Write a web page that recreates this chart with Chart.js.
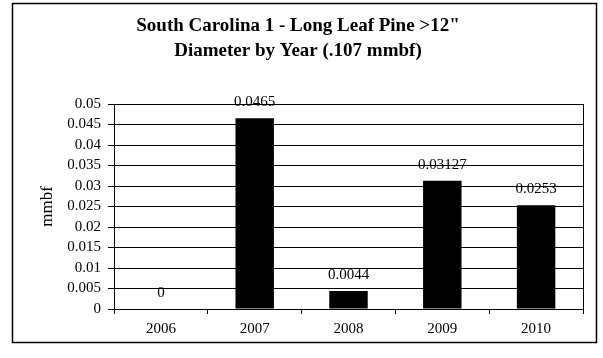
<!DOCTYPE html>
<html>
<head>
<meta charset="utf-8">
<script src="https://cdn.jsdelivr.net/npm/chart.js@4"></script>
<style>
  html, body { margin: 0; padding: 0; background: #fff; }
  #wrap { position: absolute; left: 0; top: 0; width: 603px; height: 358px; }
</style>
</head>
<body>
<div id="wrap"><canvas id="myChart" width="603" height="358"></canvas></div>
<script>
var years = ["2006", "2007", "2008", "2009", "2010"];
var mmbf = [0, 0.0465, 0.0044, 0.03127, 0.0253];
var valueLabels = ["0", "0.0465", "0.0044", "0.03127", "0.0253"];
var titleLines = ['South Carolina 1 - Long Leaf Pine >12"', 'Diameter by Year (.107 mmbf)'];

// labels above bars, plus the plot and outer frames
var frames = {
  id: 'frames',
  beforeDraw: function(chart) {
    var c = chart.ctx;
    c.save();
    c.fillStyle = '#fff';
    c.fillRect(0, 0, chart.width, chart.height);
    c.strokeStyle = '#000';
    c.lineWidth = 1.5;
    c.strokeRect(12.5, 3.5, 584, 339);
    c.restore();
  },
  afterDraw: function(chart) {
    var c = chart.ctx, a = chart.chartArea;
    c.save();
    c.strokeStyle = '#000';
    c.lineWidth = 1;
    c.strokeRect(a.left + 0.5, a.top + 0.5, a.right - a.left, a.bottom - a.top);
    c.font = '15px "Liberation Serif"';
    c.fillStyle = '#000';
    c.textAlign = 'center';
    c.textBaseline = 'middle';
    chart.getDatasetMeta(0).data.forEach(function(bar, i) {
      c.fillText(valueLabels[i], bar.x, bar.y - 16);
    });
    c.restore();
  }
};

var ctx = document.getElementById("myChart").getContext('2d');
var myChart = new Chart(ctx, {
  type: 'bar',
  data: {
    labels: years,
    datasets: [{
      data: mmbf,
      backgroundColor: "#000",
      borderWidth: 0,
      barPercentage: 0.41,
      categoryPercentage: 1
    }]
  },
  options: {
    responsive: false,
    animation: false,
    layout: { padding: { left: 13, right: 20, top: 4, bottom: 15 } },
    plugins: {
      legend: { display: false },
      tooltip: { enabled: false },
      title: {
        display: true,
        text: titleLines,
        color: '#000',
        font: { family: '"Liberation Serif"', size: 19, weight: 'bold', lineHeight: 1.316 },
        padding: { top: 10, bottom: 40 }
      }
    },
    scales: {
      x: {
        offset: true,
        grid: { offset: true, drawOnChartArea: false, color: '#000', tickLength: 5 },
        border: { color: '#000' },
        ticks: { color: '#000', font: { family: '"Liberation Serif"', size: 15 }, padding: 6 },
        afterFit: function(s) { s.height = 34; }
      },
      y: {
        min: 0,
        max: 0.05,
        grid: { color: '#000', tickLength: 6 },
        border: { color: '#000' },
        ticks: {
          stepSize: 0.005,
          autoSkip: false,
          color: '#000',
          font: { family: '"Liberation Serif"', size: 15 },
          padding: 7,
          callback: function(v) { return +v.toFixed(3); }
        },
        title: {
          display: true,
          text: 'mmbf',
          color: '#000',
          font: { family: '"Liberation Serif"', size: 17 },
          padding: { top: 24, bottom: 0 }
        },
        afterFit: function(s) { s.width = 101; }
      }
    }
  },
  plugins: [frames]
});
</script>
</body>
</html>
